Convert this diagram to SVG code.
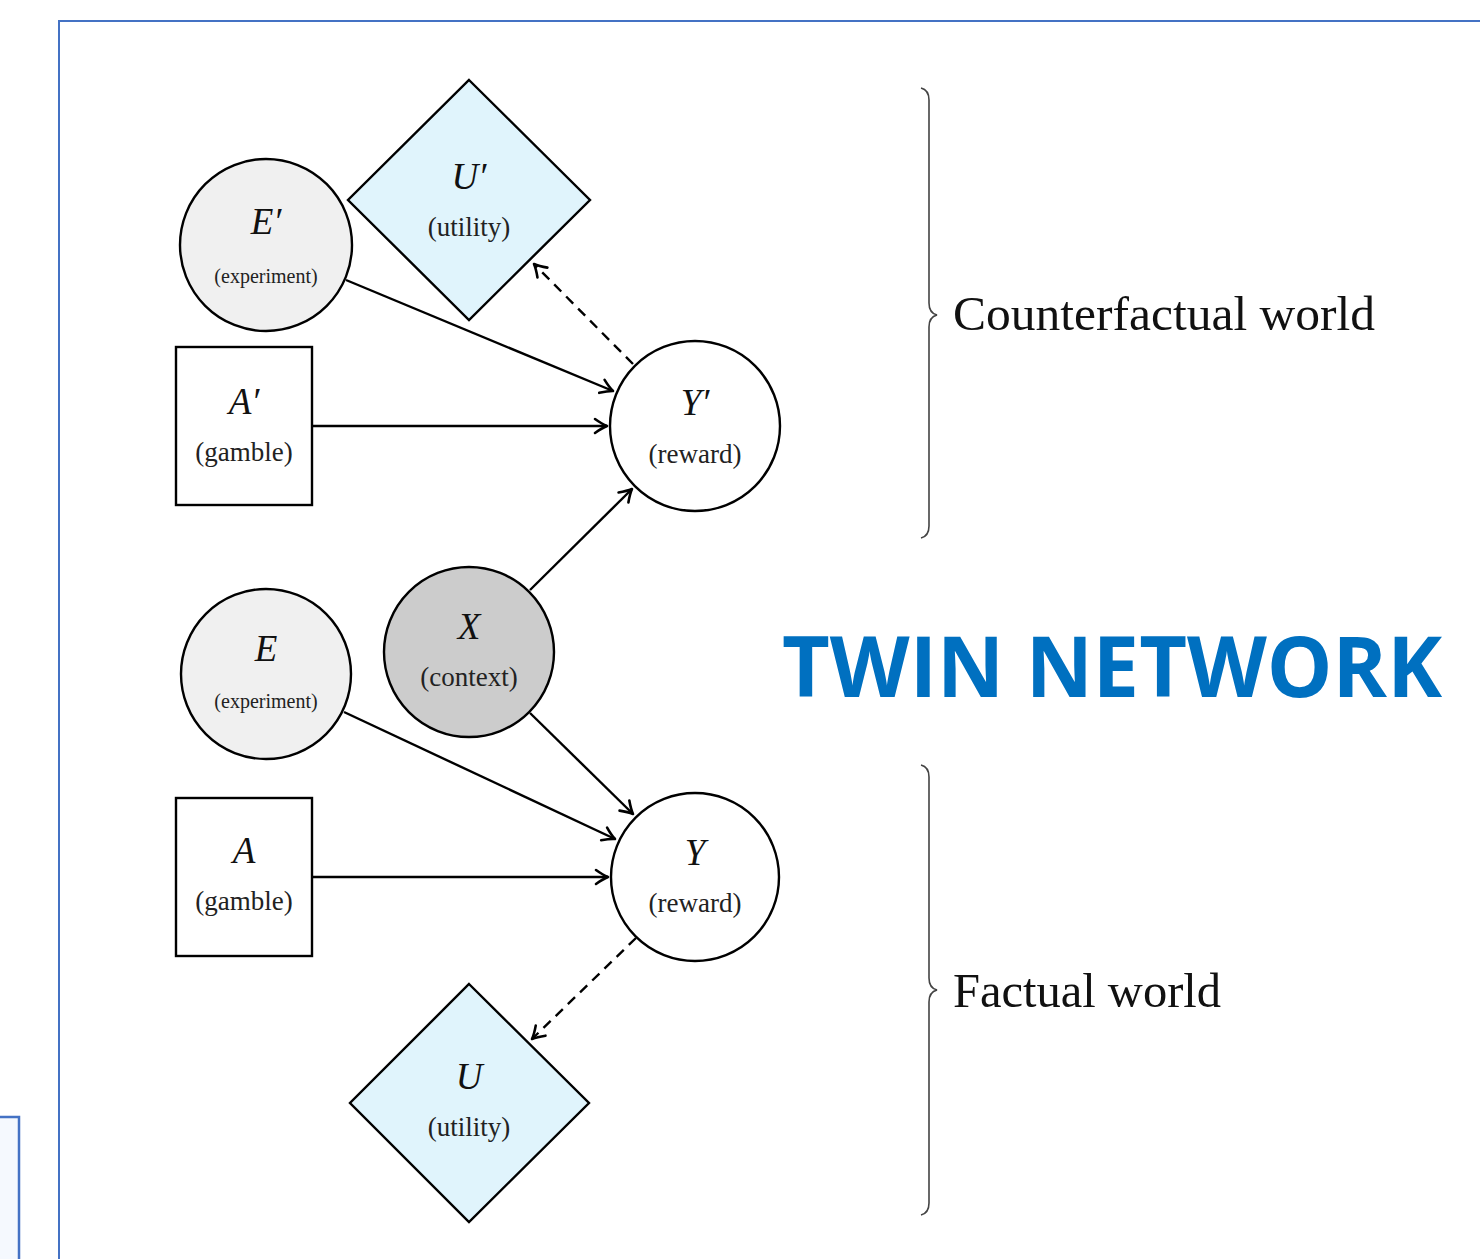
<svg xmlns="http://www.w3.org/2000/svg" width="1480" height="1259" viewBox="0 0 1480 1259">
<style>
.node{stroke:#000;stroke-width:2.4}
.sym{font-family:"Liberation Serif","DejaVu Serif",serif;font-style:italic;font-size:37px;fill:#111;text-anchor:middle}
.lab{font-family:"Liberation Serif","DejaVu Serif",serif;font-size:27px;fill:#222;text-anchor:middle}
.sm{font-family:"Liberation Serif","DejaVu Serif",serif;font-size:20px;fill:#222;text-anchor:middle}
.edge{stroke:#000;stroke-width:2.4;fill:none;marker-end:url(#ah)}
.dash{stroke-dasharray:10 7}
.brace{stroke:#444;stroke-width:1.6;fill:none}
.world{font-family:"Liberation Serif","DejaVu Serif",serif;font-size:48px;fill:#111}
</style>
<defs>
<marker id="ah" viewBox="-14 -9 16 18" refX="0" refY="0" markerWidth="16" markerHeight="18" markerUnits="userSpaceOnUse" orient="auto">
<path d="M -12,-7 Q -5,-2 0,0 Q -5,2 -12,7" fill="none" stroke="#000" stroke-width="2.6" stroke-linecap="round" stroke-linejoin="round"/>
</marker>
</defs>
<rect width="1480" height="1259" fill="#fff"/>
<g id="frame">
<path d="M 59 1259 L 59 21 L 1480 21" fill="none" stroke="#4472c4" stroke-width="2"/>
<rect x="-10" y="1117" width="29" height="160" fill="#f5f9fe" stroke="#4472c4" stroke-width="2.5"/>
</g>
<g id="connectors">
<line class="edge" x1="346" y1="280" x2="613" y2="391"/>
<line class="edge" x1="312" y1="426" x2="607" y2="426"/>
<line class="edge" x1="530" y1="590" x2="632" y2="489"/>
<line class="edge dash" x1="633" y1="364" x2="534" y2="264"/>
<line class="edge" x1="344" y1="712" x2="615" y2="839"/>
<line class="edge" x1="312" y1="877" x2="608" y2="877"/>
<line class="edge" x1="530" y1="713" x2="633" y2="814"/>
<line class="edge dash" x1="636" y1="938" x2="532" y2="1039"/>
</g>
<g id="node-Uprime">
<polygon class="node" points="469,80 590,200 469,320 348,200" fill="#e0f4fc"/>
<text class="sym" x="469" y="189">U′</text>
<text class="lab" x="469" y="236">(utility)</text>
</g>
<g id="node-Eprime">
<circle class="node" cx="266" cy="245" r="86" fill="#f0f0f0"/>
<text class="sym" x="266" y="234">E′</text>
<text class="sm" x="266" y="283">(experiment)</text>
</g>
<g id="node-Aprime">
<rect class="node" x="176" y="347" width="136" height="158" fill="#fff"/>
<text class="sym" x="244" y="414">A′</text>
<text class="lab" x="244" y="461">(gamble)</text>
</g>
<g id="node-Yprime">
<circle class="node" cx="695" cy="426" r="85" fill="#fff"/>
<text class="sym" x="695" y="415">Y′</text>
<text class="lab" x="695" y="463">(reward)</text>
</g>
<g id="node-X">
<circle class="node" cx="469" cy="652" r="85" fill="#cccccc"/>
<text class="sym" x="469" y="639">X</text>
<text class="lab" x="469" y="686">(context)</text>
</g>
<g id="node-E">
<circle class="node" cx="266" cy="674" r="85" fill="#f0f0f0"/>
<text class="sym" x="266" y="661">E</text>
<text class="sm" x="266" y="708">(experiment)</text>
</g>
<g id="node-A">
<rect class="node" x="176" y="798" width="136" height="158" fill="#fff"/>
<text class="sym" x="244" y="863">A</text>
<text class="lab" x="244" y="910">(gamble)</text>
</g>
<g id="node-Y">
<circle class="node" cx="695" cy="877" r="84" fill="#fff"/>
<text class="sym" x="695" y="865">Y</text>
<text class="lab" x="695" y="912">(reward)</text>
</g>
<g id="node-U">
<polygon class="node" points="469,984 589,1103 469,1222 350,1103" fill="#e0f4fc"/>
<text class="sym" x="469" y="1089">U</text>
<text class="lab" x="469" y="1136">(utility)</text>
</g>
<g id="braces">
<path class="brace" d="M 921 88 Q 929 90 929 100 L 929 303 Q 929 313 937 315 Q 929 317 929 327 L 929 526 Q 929 536 921 538"/>
<path class="brace" d="M 921 765 Q 929 767 929 777 L 929 978 Q 929 988 937 990 Q 929 992 929 1002 L 929 1203 Q 929 1213 921 1215"/>
<text class="world" x="953" y="330" textLength="422" lengthAdjust="spacingAndGlyphs">Counterfactual world</text>
<text class="world" x="953" y="1007" textLength="268" lengthAdjust="spacingAndGlyphs">Factual world</text>
</g>
<g id="title">
<text x="782" y="697" font-family="'Open Sans','Liberation Sans',sans-serif" font-weight="bold" font-size="84" fill="#0070c0" textLength="660" lengthAdjust="spacingAndGlyphs">TWIN NETWORK</text>
</g>
</svg>
